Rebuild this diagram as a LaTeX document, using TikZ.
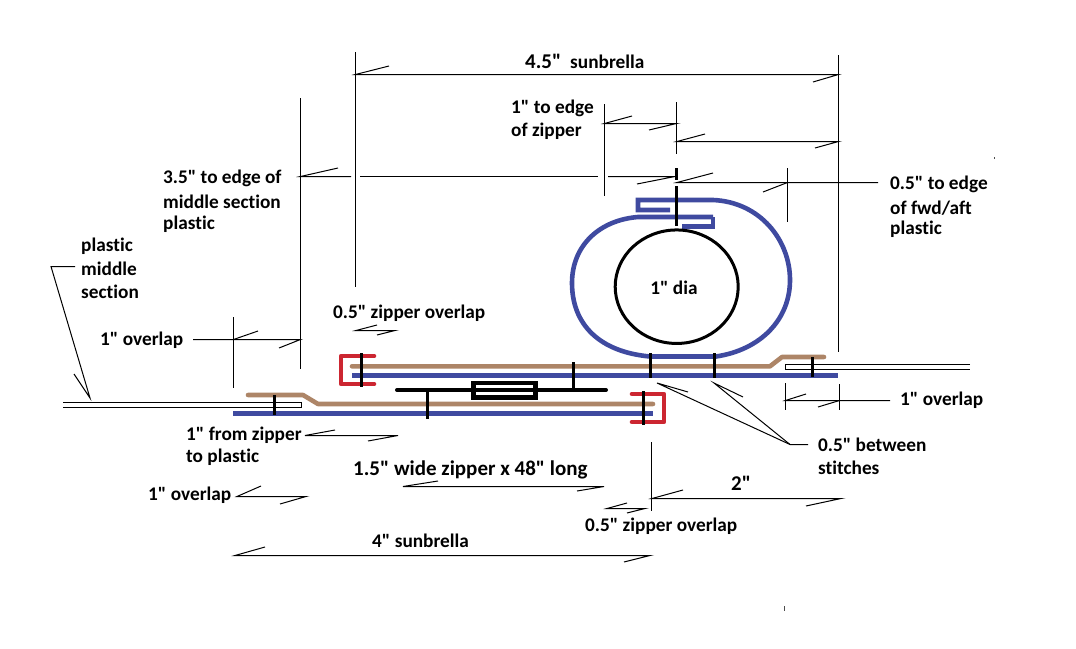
\documentclass[tikz,border=0pt]{standalone}
\usepackage{fontspec}
\newfontfamily\lblfont[Ligatures=NoCommon]{Carlito}
\usetikzlibrary{positioning,shapes.geometric}

\definecolor{fabricblue}{HTML}{3F4AA0}
\definecolor{edgebrown}{HTML}{AD8567}
\definecolor{zipperred}{HTML}{CC2631}

\tikzset{
	dimline/.style={line width=1pt},
	blueline/.style={draw=fabricblue,line width=4.6pt},
	brownline/.style={draw=edgebrown,line width=4.6pt,line cap=round,line join=round},
	redline/.style={draw=zipperred,line width=4.6pt,line cap=round,line join=round},
	stitch/.style={line width=3pt},
	lbl/.style={font=\lblfont\bfseries\fontsize{19.3}{23}\selectfont,inner sep=0pt,anchor=west,yshift=-0.7pt},
	biglbl/.style={font=\lblfont\bfseries\fontsize{21}{25}\selectfont,inner sep=0pt,anchor=west,yshift=-0.7pt}
}

\begin{document}
\begin{tikzpicture}[x=1pt,y=-1pt]
	\useasboundingbox (0,0) rectangle (1076,648);

	% fabric
	\draw[blueline] (713,217) -- (638,217) .. controls (600,220) and (572,245) .. (572,283) .. controls (572,325) and (600,352) .. (650,356.5);
	\draw[blueline] (670,210) -- (638,210) -- (638,200) -- (713,200) .. controls (760,202) and (790,240) .. (790,280) .. controls (790,320) and (760,350) .. (716,356.5) -- (650,356.5);
	\draw[blueline] (713,217) -- (713,226.5) -- (682,226.5);
	\draw[blueline] (352,375.3) -- (838,375.3);
	\draw[blueline] (233,413.3) -- (653,413.3);
	\draw[brownline] (352,366.3) -- (770,366.3) -- (782,357) -- (824,357);
	\draw[brownline] (248,395) -- (303,395) -- (318,404) -- (653,404);
	\draw[redline] (374,356) -- (341,356) -- (341,384) -- (374,384);
	\draw[redline] (632,394) -- (664,394) -- (664,422) -- (632,422);

	% tube
	\node[ellipse,draw,line width=3pt,minimum width=123pt,minimum height=113.5pt,inner sep=0pt] (tube) at (676.7,286.7) {};
	\node[lbl,anchor=center] (dia) at (674,287) {1" dia};

	% plastic
	\draw[dimline] (970,364.5) -- (785.5,364.5) -- (785.5,369.5) -- (970,369.5);
	\draw[dimline] (63,402.5) -- (301.5,402.5) -- (301.5,407.5) -- (63,407.5);

	% zipper
	\draw[fill=white,line width=4.5pt] (473.5,383) rectangle (535.5,397.5);
	\draw[line width=4pt,line cap=round] (397,390) -- (606,390);

	% stitches
	\draw[stitch] (676,168) -- (676,180);
	\draw[stitch] (676,186) -- (676,226);
	\draw[stitch] (650.5,353) -- (650.5,378);
	\draw[stitch] (714,353) -- (714,378);
	\draw[stitch] (812,357) -- (812,377);
	\draw[stitch] (361,353) -- (361,387);
	\draw[stitch] (274,395) -- (274,415);
	\draw[stitch] (427,392) -- (427,419);
	\draw[stitch] (573,362) -- (573,390);
	\draw[stitch] (643,391) -- (643,425);

	% extension lines
	\draw[dimline] (355.5,52) -- (355.5,287);
	\draw[dimline] (838.5,55) -- (838.5,352);
	\draw[dimline] (604.5,104) -- (604.5,196);
	\draw[dimline] (676.5,102) -- (676.5,154);
	\draw[dimline] (787.5,168) -- (787.5,222);
	\draw[dimline] (300.5,98) -- (300.5,369);
	\draw[dimline] (233.5,317) -- (233.5,388);
	\draw[dimline] (785.5,383) -- (785.5,410);
	\draw[dimline] (839.5,384) -- (839.5,410);
	\draw[dimline] (651.5,442) -- (651.5,511);

	% dimension lines, each with its two half heads
	\draw[dimline] (389,66) -- (355.5,74.5) -- (838.5,74.5) -- (813,82);
	\draw[dimline] (632,116) -- (604.5,123.5) -- (676.5,123.5) -- (649,130);
	\draw[dimline] (705,134) -- (677,141.5) -- (838.5,141.5) -- (815,148);
	\draw[dimline] (338,168) -- (300.5,176.5) -- (351,176.5);
	\draw[dimline] (360,176.5) -- (598,176.5);
	\draw[dimline] (608,176.5) -- (675,176.5) -- (637,184);
	\draw[dimline] (713,173) -- (677,182.5) -- (878,182.5);
	\draw[dimline] (763,192) -- (787.5,182.5);
	\draw[dimline] (258,331) -- (233.5,339.5);
	\draw[dimline] (193,339.5) -- (300.5,339.5) -- (279,348);
	\draw[dimline] (806,394) -- (785.5,400.5) -- (890,400.5);
	\draw[dimline] (818,407) -- (839.5,400.5);
	\draw[dimline] (377,325) -- (356,330.5) -- (395,330.5) -- (377,335);
	\draw[dimline] (335,430) -- (305,435.5) -- (398,435.5) -- (368,441);
	\draw[dimline] (438,481) -- (403,486.5) -- (604,486.5) -- (577,491);
	\draw[dimline] (261,486) -- (237,496.5) -- (306,496.5) -- (280,504);
	\draw[dimline] (265,547) -- (235,555.5) -- (650,555.5) -- (624,562);
	\draw[dimline] (627,503) -- (607,508.5) -- (645,508.5) -- (627,513);
	\draw[dimline] (683,490) -- (652,498.5) -- (841,498.5) -- (806,506);

	% leaders
	\coordinate (plasticjoin) at (51,266.5);
	\coordinate (stitchjoin) at (790,444.5);
	\draw[dimline] (75,266.5) -- (plasticjoin) -- (90,398) -- (74,374);
	\draw[dimline] (808,444.5) -- (stitchjoin) -- (657,383) -- (688,392);
	\draw[dimline] (stitchjoin) -- (714,383) -- (743,397);

	% specks
	\fill[black!70] (784,606) rectangle (785.2,611);
	\fill[black!70] (993.5,157) rectangle (995,158.5);

	% labels
	\node[biglbl] (len) at (525,61) {4.5"};
	\node[lbl] (sunb) at (570,61) {sunbrella};
	\node[lbl] (edgezip) at (511,108) {1" to edge};
	\node[lbl] (edgezipb) at (511,131) {of zipper};
	\node[lbl] (midplas) at (163,178) {3.5" to edge of};
	\node[lbl] (midplasb) at (163,201) {middle section};
	\node[lbl] (midplasc) at (163,224) {plastic};
	\node[lbl] (fwd) at (890,184) {0.5" to edge};
	\node[lbl] (fwdb) at (890,207) {of fwd/aft};
	\node[lbl] (fwdc) at (890,229) {plastic};
	\node[lbl] (plas) at (81,246) {plastic};
	\node[lbl] (plasb) at (81,268) {middle};
	\node[lbl] (plasc) at (81,291) {section};
	\node[lbl] (lapa) at (100,340) {1" overlap};
	\node[lbl] (zipa) at (333,313) {0.5" zipper overlap};
	\node[lbl] (lapb) at (900,400) {1" overlap};
	\node[lbl] (stit) at (818,444) {0.5" between};
	\node[lbl] (stitb) at (818,467) {stitches};
	\node[lbl] (from) at (186,435) {1" from zipper};
	\node[lbl] (fromb) at (186,457) {to plastic};
	\node[biglbl] (wide) at (353,469) {1.5" wide zipper x 48" long};
	\node[lbl] (lapc) at (148,495) {1" overlap};
	\node[biglbl] (two) at (731,483) {2"};
	\node[lbl] (zipb) at (585,526) {0.5" zipper overlap};
	\node[lbl] (four) at (372,540) {4" sunbrella};
\end{tikzpicture}
\end{document}
